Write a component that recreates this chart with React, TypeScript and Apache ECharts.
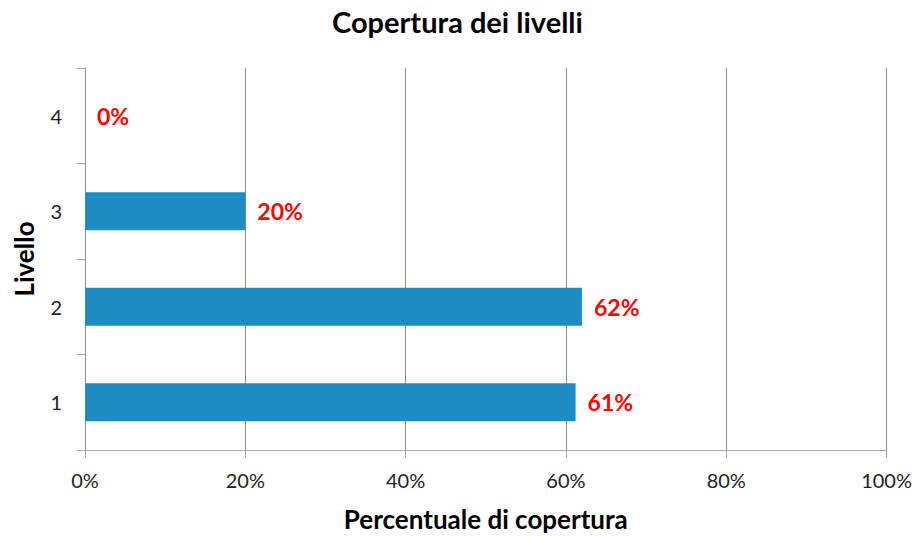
import React, { useEffect, useRef } from "react";
import * as echarts from "echarts";

const levels = ["1", "2", "3", "4"];
const coverage = [0.612, 0.62, 0.2, 0];
const xTicks = [0, 0.2, 0.4, 0.6, 0.8, 1];
const titleText = "Copertura dei livelli";
const xName = "Percentuale di copertura";
const yName = "Livello";

const FONT = "Lato, 'Open Sans', sans-serif";

export default function App() {
  const ref = useRef<HTMLDivElement>(null);
  useEffect(() => {
    if (!ref.current) return;
    const chart = echarts.init(ref.current, undefined, { renderer: "svg" });
    chart.setOption({
      animation: false,
      backgroundColor: "#ffffff",
      title: {
        text: titleText,
        left: "center",
        top: 2,
        textStyle: { fontFamily: FONT, fontWeight: "bold", fontSize: 29, color: "#000" },
      },
      grid: { left: 85, right: 27, top: 68, bottom: 84, containLabel: false },
      xAxis: {
        type: "value",
        min: xTicks[0],
        max: xTicks[xTicks.length - 1],
        interval: 0.2,
        name: xName,
        nameLocation: "middle",
        nameGap: 56,
        nameTextStyle: { fontFamily: FONT, fontWeight: "bold", fontSize: 26, color: "#000" },
        axisLine: { show: true, lineStyle: { color: "#a6a6a6", width: 1 } },
        axisTick: { show: true, length: 8, lineStyle: { color: "#a6a6a6" } },
        axisLabel: {
          margin: 20,
          fontFamily: FONT,
          fontSize: 20,
          color: "#222",
          formatter: (v: number) => Math.round(v * 100) + "%",
        },
        splitLine: { show: true, lineStyle: { color: "#8c8c8c", width: 1 } },
      },
      yAxis: {
        type: "category",
        data: levels,
        name: yName,
        nameLocation: "middle",
        nameGap: 48,
        nameTextStyle: { fontFamily: FONT, fontWeight: "bold", fontSize: 26, color: "#000" },
        axisLine: { show: true, lineStyle: { color: "#8c8c8c", width: 1 } },
        axisTick: { show: true, length: 8, alignWithLabel: false, lineStyle: { color: "#a6a6a6" } },
        axisLabel: { margin: 23, fontFamily: FONT, fontSize: 20, color: "#222" },
        splitLine: { show: false },
      },
      series: [
        {
          type: "bar",
          data: coverage,
          barWidth: "40%",
          itemStyle: { color: "#1f8bc3", borderWidth: 0 },
          label: {
            show: true,
            position: "right",
            distance: 12,
            fontFamily: FONT,
            fontWeight: "bold",
            fontSize: 23,
            color: "#ff0000",
            formatter: (p: any) => Math.round(p.value * 100) + "%",
          },
        },
      ],
    });
    return () => chart.dispose();
  }, []);
  return (
    <div
      ref={ref}
      style={{ position: "fixed", left: 0, top: 0, width: 915, height: 537 }}
    />
  );
}
